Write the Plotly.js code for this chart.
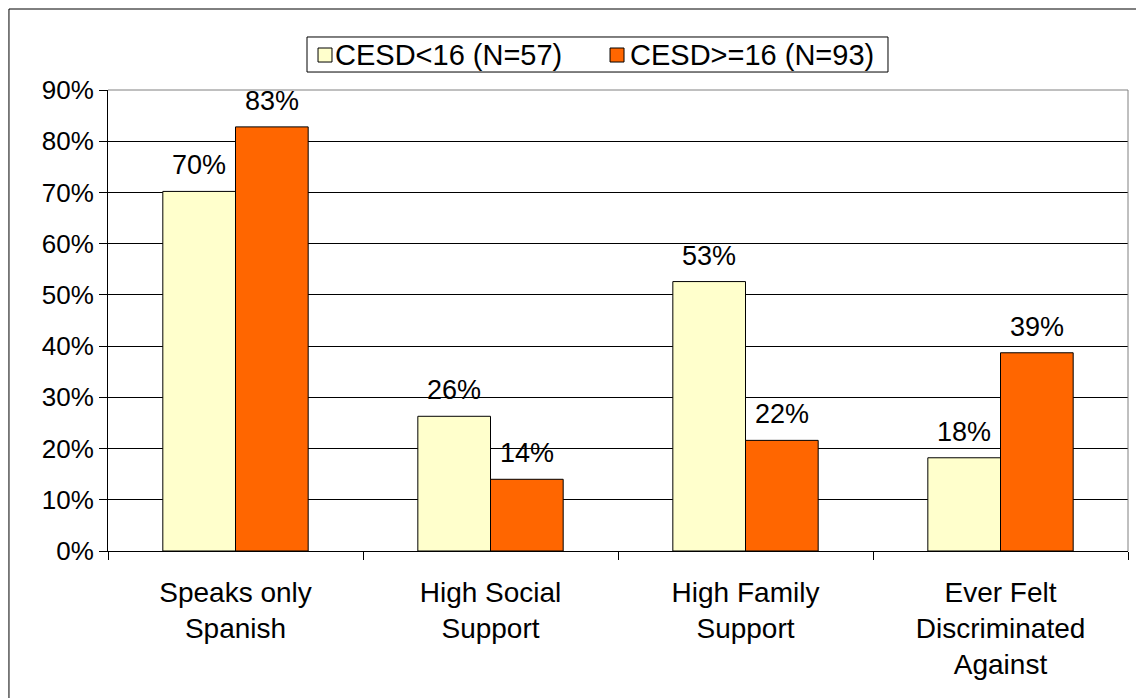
<!DOCTYPE html>
<html>
<head>
<meta charset="utf-8">
<script src="https://cdn.plot.ly/plotly-3.0.1.min.js"></script>
<style>
  html, body { margin: 0; padding: 0; background: #fff; }
  #chart { width: 1136px; height: 698px; }
</style>
</head>
<body>
<div id="chart"></div>
<script>
// Categories and group shares (fractions) for the two CESD groups
const categories = [
  "Speaks only<br>Spanish",
  "High Social<br>Support",
  "High Family<br>Support",
  "Ever Felt<br>Discriminated<br>Against"
];
const lowCesdName = "CESD<16 (N=57)";
const highCesdName = "CESD>=16 (N=93)";
const lowCesd = [0.702, 0.263, 0.526, 0.182];
const highCesd = [0.828, 0.140, 0.216, 0.387];

const lowColor = "#FFFFCC";
const highColor = "#FF6600";
const FONT = "Liberation Sans, Arial, sans-serif";
const BAR_GAP = 0.43;

const traces = [
  {
    type: "bar", x: categories, y: lowCesd, name: lowCesdName, hoverinfo: "skip",
    marker: { color: lowColor, line: { color: "#000", width: 1 } }
  },
  {
    type: "bar", x: categories, y: highCesd, name: highCesdName, hoverinfo: "skip",
    marker: { color: highColor, line: { color: "#000", width: 1 } }
  }
];

// Value labels sit above each bar; offset sideways by half a bar width
const plotWidth = 1136 - 108 - 8;
const halfBar = (plotWidth / categories.length) * (1 - BAR_GAP) / 4;
const pct = v => Math.round(v * 100) + "%";
const annotations = [];
categories.forEach((c, i) => {
  [[lowCesd, -halfBar], [highCesd, halfBar]].forEach(([series, dx]) => {
    annotations.push({
      x: c, y: series[i], xref: "x", yref: "y",
      text: pct(series[i]),
      showarrow: false,
      xshift: dx, yshift: 9,
      yanchor: "bottom", xanchor: "center",
      font: { family: FONT, size: 27, color: "#000" }
    });
  });
});

// Boxed legend above the plot: swatch + series name for each group
const legendText = (txt, x) => ({
  text: txt, x: x, y: 1.0759, xref: "paper", yref: "paper",
  xanchor: "left", yanchor: "middle", showarrow: false,
  font: { family: FONT, size: 29, color: "#000" }
});
annotations.push(legendText(lowCesdName, 0.2206));
annotations.push(legendText(highCesdName, 0.5098));

const swatch = (x0, x1, color) => ({
  type: "rect", xref: "paper", yref: "paper",
  x0: x0, x1: x1, y0: 1.0607, y1: 1.0911,
  fillcolor: color, line: { color: "#000", width: 1 }
});

const layout = {
  width: 1136,
  height: 698,
  margin: { l: 108, r: 8, t: 90, b: 147, pad: 0 },
  paper_bgcolor: "#fff",
  plot_bgcolor: "#fff",
  font: { family: FONT, size: 26, color: "#000" },
  barmode: "group",
  bargap: BAR_GAP,
  bargroupgap: 0,
  showlegend: false,
  xaxis: {
    type: "category",
    showline: true,
    linecolor: "#000",
    linewidth: 1,
    ticks: "outside",
    tickson: "boundaries",
    ticklen: 8,
    tickcolor: "#000",
    ticklabelstandoff: 16,
    showgrid: false,
    tickfont: { family: FONT, size: 28, color: "#000" },
    fixedrange: true
  },
  yaxis: {
    range: [0, 0.9],
    dtick: 0.1,
    tick0: 0,
    tickformat: ".0%",
    showline: true,
    linecolor: "#000",
    linewidth: 1,
    ticks: "outside",
    ticklen: 8,
    tickcolor: "#000",
    showgrid: true,
    gridcolor: "#000",
    gridwidth: 1,
    zeroline: false,
    tickfont: { family: FONT, size: 26, color: "#000" },
    fixedrange: true
  },
  annotations: annotations,
  shapes: [
    // plot-area border on top and right
    { type: "line", xref: "paper", yref: "paper", x0: 0, x1: 1, y0: 1, y1: 1,
      line: { color: "#808080", width: 1 } },
    { type: "line", xref: "paper", yref: "paper", x0: 1, x1: 1, y0: 0, y1: 1,
      line: { color: "#808080", width: 1 } },
    // outer chart frame (top and left edges)
    { type: "line", xref: "paper", yref: "paper", x0: -0.0971, x1: 1.01, y0: 1.1757, y1: 1.1757,
      line: { color: "#000", width: 1 } },
    { type: "line", xref: "paper", yref: "paper", x0: -0.0971, x1: -0.0971, y0: 1.1757, y1: -0.33,
      line: { color: "#000", width: 1 } },
    // legend frame and swatches
    { type: "rect", xref: "paper", yref: "paper", x0: 0.1951, x1: 0.7647, y0: 1.0390, y1: 1.1150,
      fillcolor: "#fff", line: { color: "#000", width: 1 } },
    swatch(0.2059, 0.2196, lowColor),
    swatch(0.4922, 0.5059, highColor)
  ]
};

Plotly.newPlot("chart", traces, layout, { displayModeBar: false, staticPlot: true });
</script>
</body>
</html>
